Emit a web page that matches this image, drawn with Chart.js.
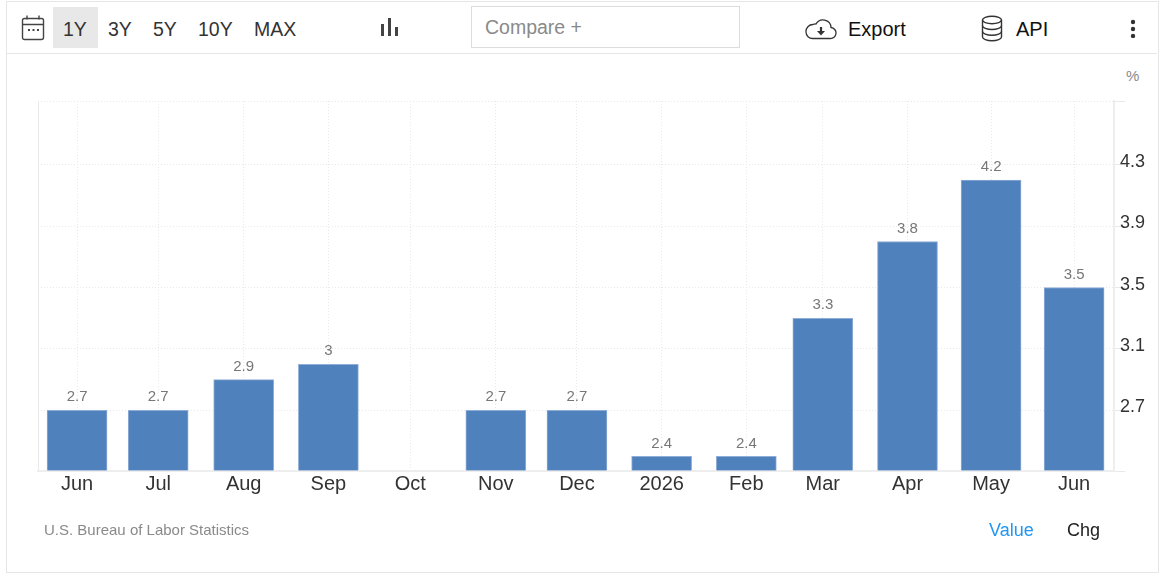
<!DOCTYPE html>
<html>
<head>
<meta charset="utf-8">
<title>Inflation rate</title>
<script src="https://cdn.jsdelivr.net/npm/chart.js@4"></script>
<style>
  html, body { margin: 0; padding: 0; background: #fff; }
  body { width: 1167px; height: 585px; position: relative; overflow: hidden; font-family: "Liberation Sans", Arial, sans-serif; color: #333; }
  #frame { position: absolute; left: 6px; top: 1px; width: 1151px; height: 570px; border: 1px solid #e6e6e6; }
  #toolbar-line { position: absolute; left: 7px; top: 53px; width: 1150px; height: 1px; background: #e6e6e6; }
  #chart { position: absolute; left: 0; top: 0; }
  .txt { position: absolute; white-space: nowrap; line-height: 1; }
  .range { font-size: 19.5px; top: 20px; color: #333; }
  #active { position: absolute; left: 53px; top: 7px; width: 45px; height: 41px; background: #e8e8e8; }
  #compare { position: absolute; left: 471px; top: 6px; width: 267px; height: 40px; border: 1px solid #dcdcdc; color: #8a8a8a; font-size: 19.5px; line-height: 40px; text-indent: 13px; }
  svg { position: absolute; }
</style>
</head>
<body>
<div id="frame"></div>
<div id="toolbar-line"></div>
<div id="active"></div>

<svg style="left:21px;top:14px" width="25" height="28" viewBox="0 0 25 28" fill="none" stroke="#444" stroke-width="1.4">
  <rect x="1.5" y="4.5" width="21" height="21" rx="2"/>
  <path d="M1.5 10.5h21M6 1.5v4M18 1.5v4"/>
  <path d="M7 16h2M11.5 16h2M16 16h2" stroke-width="2"/>
</svg>
<div class="txt range" style="left:63px">1Y</div>
<div class="txt range" style="left:108px">3Y</div>
<div class="txt range" style="left:153px">5Y</div>
<div class="txt range" style="left:198px">10Y</div>
<div class="txt range" style="left:254px">MAX</div>

<svg style="left:380px;top:18px" width="19" height="19" viewBox="0 0 19 19" fill="#444">
  <rect x="1" y="6" width="3" height="12"/>
  <rect x="8" y="0" width="3" height="18"/>
  <rect x="15" y="9" width="3" height="9"/>
</svg>

<div id="compare">Compare +</div>

<svg style="left:805px;top:18px" width="32" height="22" viewBox="0 0 32 22" fill="none" stroke="#333" stroke-width="1.3">
  <path d="M8 20.5h17a5.5 5.5 0 0 0 1-11A8 8 0 0 0 11 6a6 6 0 0 0-3 .5A7 7 0 0 0 1 14a6.5 6.5 0 0 0 7 6.5z"/>
  <path d="M16 9v5" stroke-width="2.2"/>
  <path d="M12 13h8l-4 4.5z" fill="#333" stroke="none"/>
</svg>
<div class="txt" style="left:848px;top:19px;font-size:20px;color:#111">Export</div>

<svg style="left:981px;top:15px" width="22" height="27" viewBox="0 0 22 27" fill="none" stroke="#333" stroke-width="1.4">
  <ellipse cx="11" cy="5" rx="9.5" ry="3.8"/>
  <path d="M1.5 5v17c0 2 4.3 3.8 9.5 3.8s9.500-1.800 9.500-3.800V5"/>
  <path d="M1.500 10.700c0 2 4.300 3.800 9.500 3.800s9.500-1.800 9.500-3.800M1.500 16.400c0 2 4.300 3.800 9.500 3.800s9.500-1.800 9.500-3.800"/>
</svg>
<div class="txt" style="left:1016px;top:19px;font-size:20px;color:#111">API</div>

<svg style="left:1129px;top:19px" width="8" height="19" viewBox="0 0 8 19" fill="#333">
  <circle cx="4" cy="3" r="2.200"/>
  <circle cx="4" cy="10" r="2.200"/>
  <circle cx="4" cy="17" r="2.200"/>
</svg>

<div class="txt" style="left:1126px;top:68px;font-size:15px;color:#8a8a8a">%</div>

<canvas id="chart" width="1167" height="585"></canvas>

<div class="txt" style="left:44px;top:522px;font-size:15px;color:#8a8a8a">U.S. Bureau of Labor Statistics</div>
<div class="txt" style="left:989px;top:521px;font-size:18px;color:#2196f3">Value</div>
<div class="txt" style="left:1067px;top:521px;font-size:18px;color:#222">Chg</div>

<script>
// Months, June 2025 to June 2026 (days counted from the first bar, bars sit on a time-like axis)
const labels = ["Jun", "Jul", "Aug", "Sep", "Oct", "Nov", "Dec", "2026", "Feb", "Mar", "Apr", "May", "Jun"];
const days = [0, 29.7, 61, 92, 122, 153.3, 183, 214, 245, 273, 304, 334.6, 365];
const values = [2.7, 2.7, 2.9, 3, null, 2.7, 2.7, 2.4, 2.4, 3.3, 3.8, 4.2, 3.5];
const yTicks = [2.7, 3.1, 3.5, 3.9, 4.3];
const xMin = -14.3;
const xMax = 379.6;
const yMin = 2.305;
const yMax = 4.715;

const gridColor = "#e9e9e9";
const axisColor = "#eeeeee";

// value labels above the bars
const barLabels = {
    id: "barLabels",
    afterDatasetsDraw(chart) {
        const ctx = chart.ctx;
        const xScale = chart.scales.x;
        const yScale = chart.scales.y;
        ctx.save();
        ctx.font = '15px "Liberation Sans", Arial, sans-serif';
        ctx.fillStyle = "#777";
        ctx.textAlign = "center";
        ctx.textBaseline = "middle";
        values.forEach((v, i) => {
            if (v === null) return;
            ctx.fillText(String(v), xScale.getPixelForValue(days[i]), yScale.getPixelForValue(v) - 13);
        });
        ctx.restore();
    }
};

new Chart(document.getElementById("chart"), {
    type: "bar",
    data: {
        datasets: [{
            data: days.map((d, i) => ({ x: d, y: values[i] })),
            backgroundColor: "#4f81bd",
            borderColor: "#8fadd6",
            borderWidth: 1,
            barThickness: 60,
            base: yMin
        }]
    },
    options: {
        responsive: false,
        animation: false,
        layout: { padding: { left: 38, top: 101, right: 0, bottom: 0 } },
        plugins: { legend: { display: false }, tooltip: { enabled: false } },
        scales: {
            x: {
                type: "linear",
                offset: false,
                min: xMin,
                max: xMax,
                afterBuildTicks(scale) {
                    // first tick only draws the left edge of the plot
                    scale.ticks = [xMin, ...days].map(d => ({ value: d }));
                },
                afterFit(scale) { scale.height = 114; },
                grid: { color: gridColor, drawTicks: false, offset: false },
                border: {
                    color: axisColor,
                    width: 2,
                    dash: ctx => ctx.tick && ctx.tick.value === xMin ? [] : [1, 2]
                },
                ticks: {
                    autoSkip: false,
                    maxRotation: 0,
                    padding: 1,
                    color: "#333",
                    font: { family: '"Liberation Sans", Arial, sans-serif', size: 20 },
                    callback: value => labels[days.indexOf(value)] || ""
                }
            },
            y: {
                position: "right",
                min: yMin,
                max: yMax,
                afterBuildTicks(scale) {
                    scale.ticks = [yMin, ...yTicks, yMax].map(v => ({ value: v }));
                },
                afterFit(scale) { scale.width = 53; },
                grid: { color: gridColor, tickLength: 11 },
                border: { color: axisColor, width: 2, dash: [1, 2] },
                ticks: {
                    autoSkip: false,
                    padding: -5,
                    color: "#333",
                    font: { family: '"Liberation Sans", Arial, sans-serif', size: 18, lineHeight: "6px" },
                    // second empty line lifts the label off its grid line
                    callback: value => yTicks.includes(value) ? [value.toFixed(1), ""] : ""
                }
            }
        }
    },
    plugins: [barLabels]
});
</script>
</body>
</html>
